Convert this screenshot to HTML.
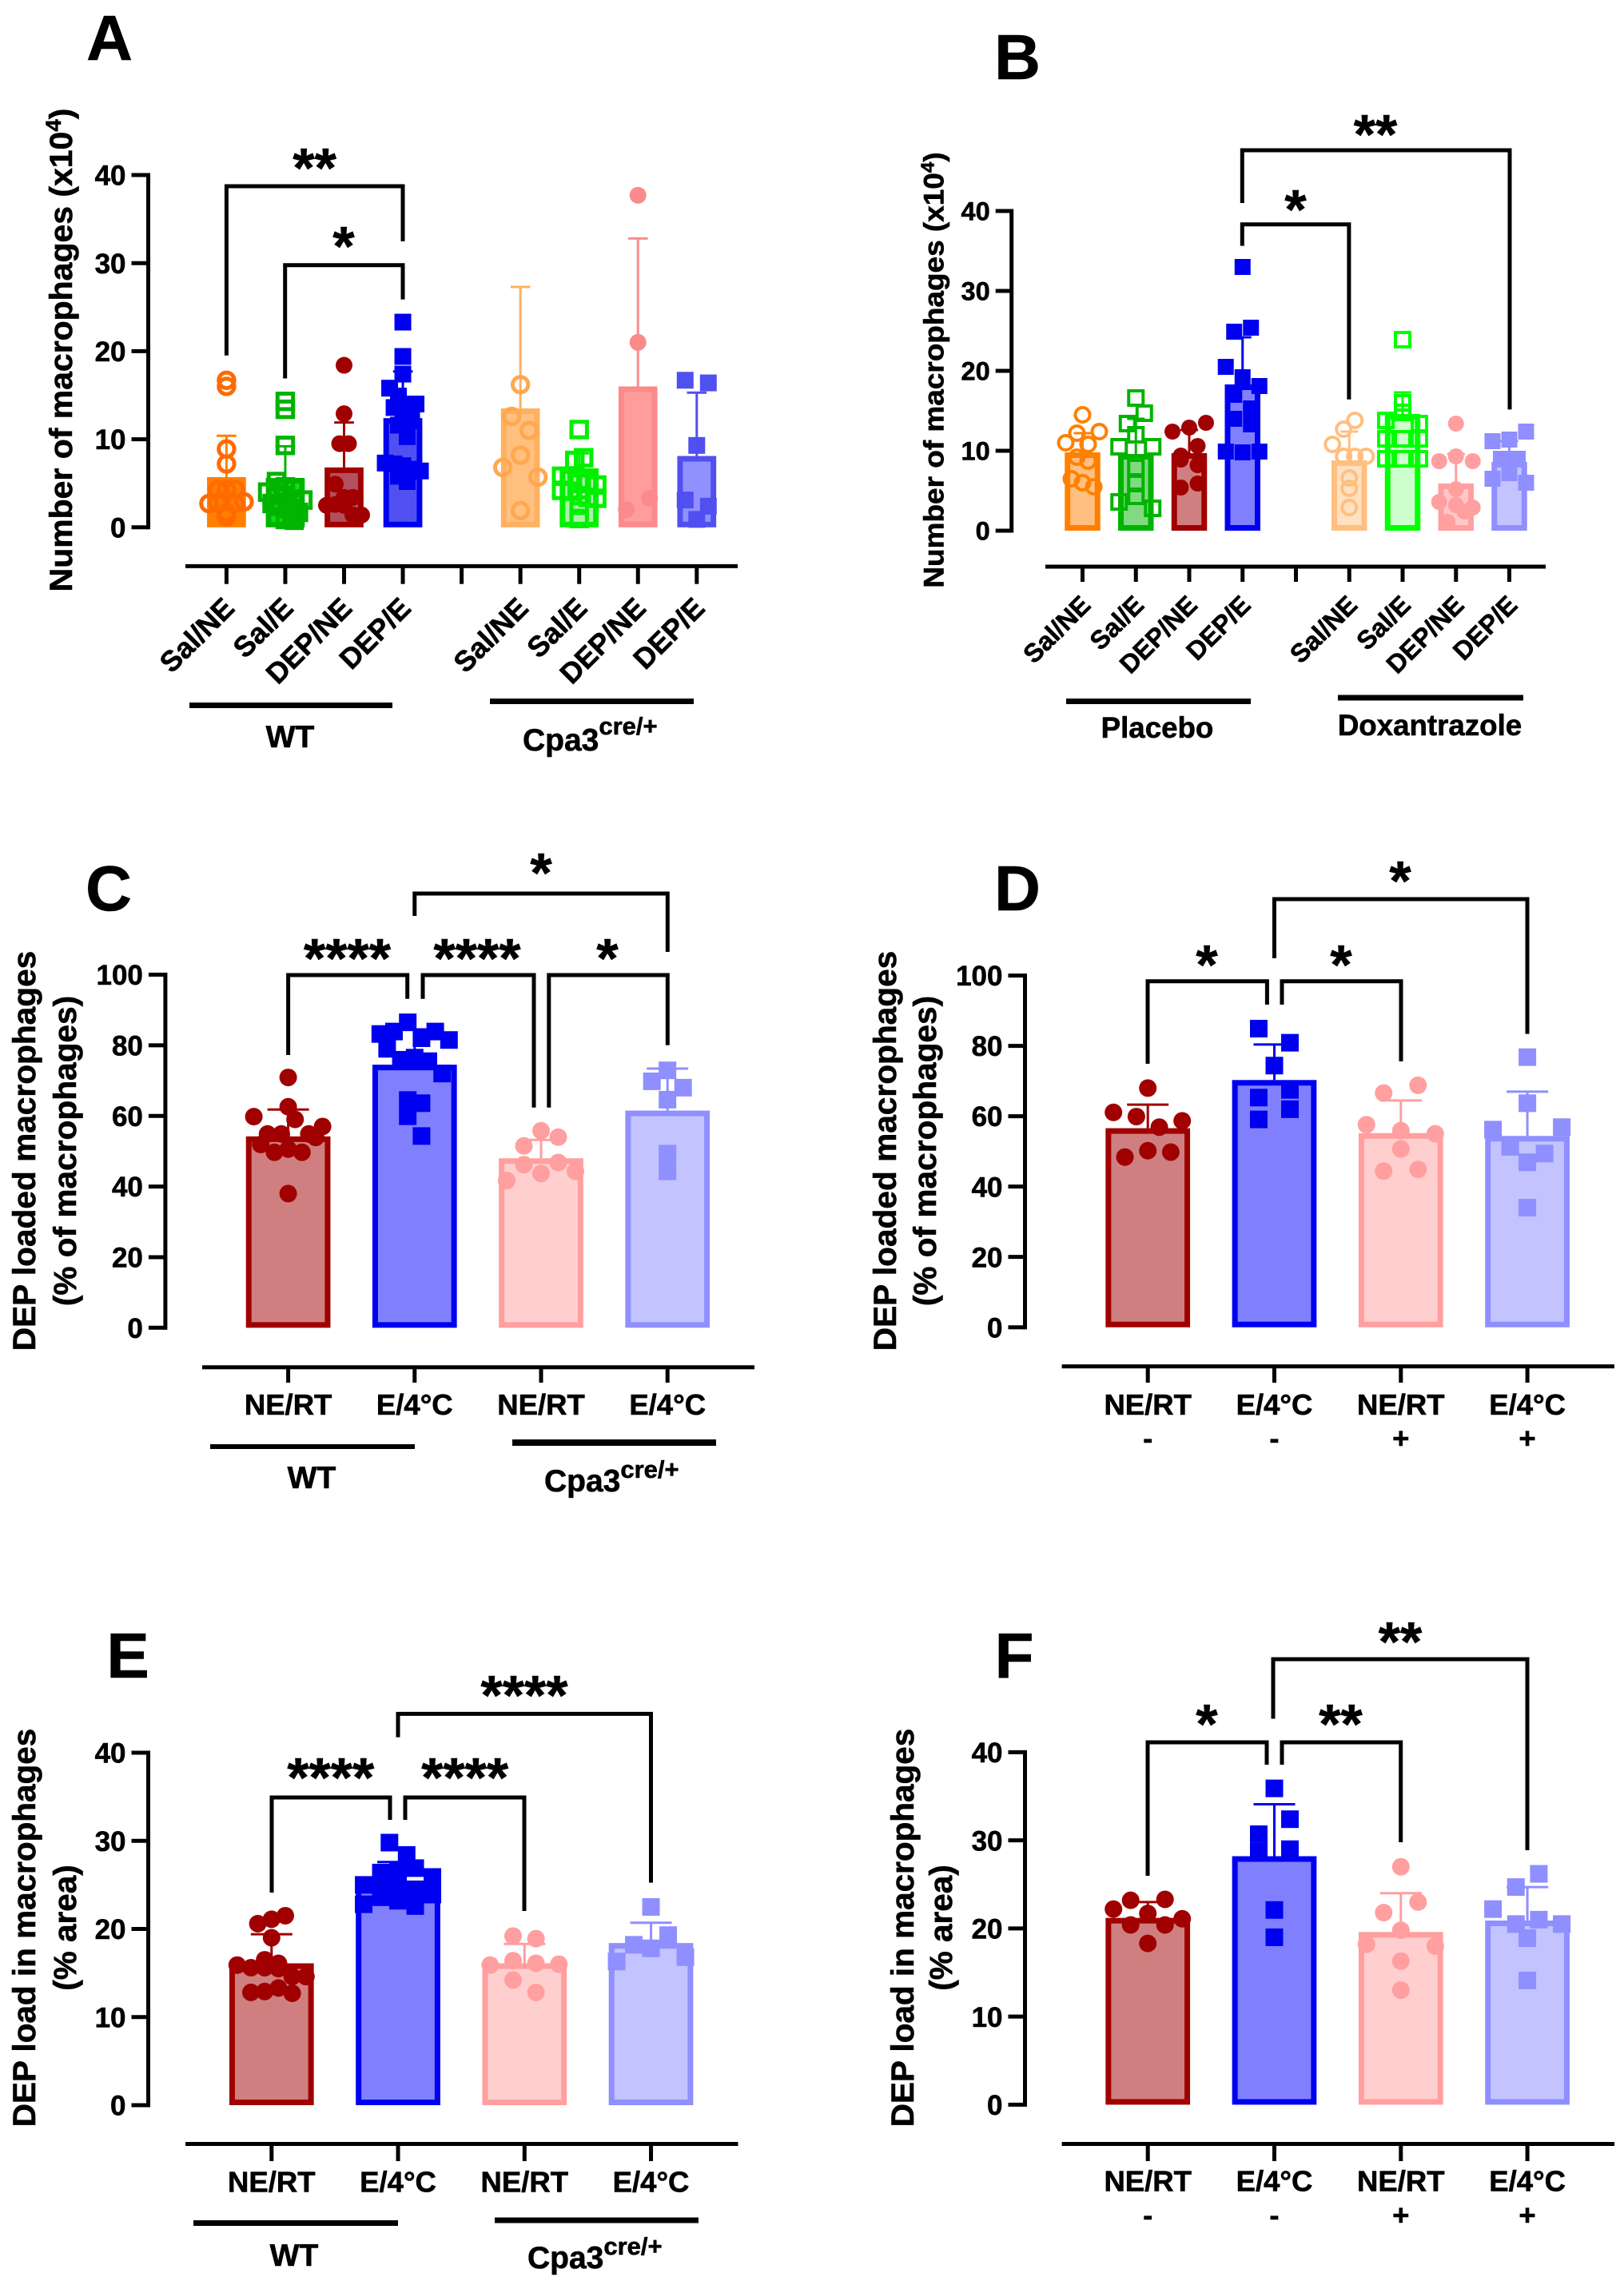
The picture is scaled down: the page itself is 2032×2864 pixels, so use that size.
<!DOCTYPE html>
<html lang="en">
<head>
<meta charset="utf-8">
<title>Macrophage figure panels A-F</title>
<style>
html,body{margin:0;padding:0;background:#fff;}
svg{display:block;font-family:"Liberation Sans",Arial,sans-serif;font-weight:bold;fill:#000;}
text{stroke:#000;stroke-width:.6px;}
.br{fill:none;stroke:#000;stroke-width:5;}
.gl{fill:#000;stroke:none;}
</style>
</head>
<body>
<svg id="figure" xmlns="http://www.w3.org/2000/svg" width="2032" height="2864" viewBox="0 0 2032 2864">
<rect width="2032" height="2864" fill="#fff"/>

<!-- panel letters -->
<text x="137" y="75" font-size="80" text-anchor="middle">A</text>
<text x="1273" y="99" font-size="80" text-anchor="middle">B</text>
<text x="136" y="1139" font-size="80" text-anchor="middle">C</text>
<text x="1273" y="1139" font-size="80" text-anchor="middle">D</text>
<text x="160" y="2099" font-size="80" text-anchor="middle">E</text>
<text x="1269" y="2099" font-size="80" text-anchor="middle">F</text>

<!-- y axis titles -->
<text transform="translate(90,438) rotate(-90) scale(1.024,1)" text-anchor="middle" font-size="40">Number of macrophages (x10<tspan dy="-14" font-size="27">4</tspan><tspan dy="14">)</tspan></text>
<text transform="translate(1180.5,463) rotate(-90) scale(1.056,1)" text-anchor="middle" font-size="35">Number of macrophages (x10<tspan dy="-12" font-size="23">4</tspan><tspan dy="12">)</tspan></text>
<text transform="translate(44,1440) rotate(-90) scale(1.016,1)" text-anchor="middle" font-size="40">DEP loaded macrophages</text>
<text transform="translate(95,1440) rotate(-90) scale(1.016,1)" text-anchor="middle" font-size="40">(% of macrophages)</text>
<text transform="translate(1121,1440) rotate(-90) scale(1.016,1)" text-anchor="middle" font-size="40">DEP loaded macrophages</text>
<text transform="translate(1171,1440) rotate(-90) scale(1.016,1)" text-anchor="middle" font-size="40">(% of macrophages)</text>
<text transform="translate(44,2412) rotate(-90) scale(1.012,1)" text-anchor="middle" font-size="40">DEP load in macrophages</text>
<text transform="translate(95,2412) rotate(-90) scale(1.012,1)" text-anchor="middle" font-size="40">(% area)</text>
<text transform="translate(1143,2412) rotate(-90) scale(1.012,1)" text-anchor="middle" font-size="40">DEP load in macrophages</text>
<text transform="translate(1191,2412) rotate(-90) scale(1.012,1)" text-anchor="middle" font-size="40">(% area)</text>

<!-- group rules and labels -->
<rect class="gl" x="237" y="879" width="254" height="7"/>
<rect class="gl" x="613" y="874" width="255" height="7"/>
<text x="363" y="935" font-size="39" text-anchor="middle">WT</text>
<text x="654" y="939" font-size="39">Cpa3<tspan dy="-20" font-size="31">cre/+</tspan></text>

<rect class="gl" x="1334" y="874" width="231" height="7"/>
<rect class="gl" x="1674" y="869.5" width="232" height="7"/>
<text x="1448" y="923" font-size="36.7" text-anchor="middle">Placebo</text>
<text x="1789" y="920" font-size="36.7" text-anchor="middle">Doxantrazole</text>

<rect class="gl" x="263" y="1807" width="256" height="6"/>
<rect class="gl" x="641" y="1801" width="255" height="8"/>
<text x="390" y="1862" font-size="39" text-anchor="middle">WT</text>
<text x="681" y="1866" font-size="39">Cpa3<tspan dy="-17" font-size="31">cre/+</tspan></text>

<rect class="gl" x="242" y="2778" width="256" height="7"/>
<rect class="gl" x="619" y="2774.5" width="255" height="7"/>
<text x="368" y="2835" font-size="39" text-anchor="middle">WT</text>
<text x="660" y="2838" font-size="39">Cpa3<tspan dy="-17" font-size="31">cre/+</tspan></text>

<!-- significance brackets and stars -->
<path class="br" d="M283.4 444.8V233H504V301.9"/>
<path class="br" d="M356.7 473.5V331.8H504V374.6"/>
<text x="393.6" y="234" font-size="70" text-anchor="middle">**</text>
<text x="430" y="332" font-size="70" text-anchor="middle">*</text>

<path class="br" d="M1554.3 254V188H1889V512.4"/>
<path class="br" d="M1554.3 307.6V280.8H1687.9V499.7"/>
<text x="1721" y="192" font-size="70" text-anchor="middle">**</text>
<text x="1621" y="286" font-size="70" text-anchor="middle">*</text>

<path class="br" d="M518.8 1146V1118H835.3V1191"/>
<path class="br" d="M360.6 1320V1220H509.7V1249.7"/>
<path class="br" d="M529 1249.7V1220H668V1385.8"/>
<path class="br" d="M686.8 1385.8V1220H835.3V1307.8"/>
<text x="677" y="1116" font-size="70" text-anchor="middle">*</text>
<text x="434.5" y="1223" font-size="70" text-anchor="middle">****</text>
<text x="597" y="1223" font-size="70" text-anchor="middle">****</text>
<text x="760" y="1223" font-size="70" text-anchor="middle">*</text>

<path class="br" d="M1594.5 1199V1125H1911V1293.6"/>
<path class="br" d="M1436 1331V1227.7H1585.4V1257"/>
<path class="br" d="M1604 1257V1227.7H1753V1328"/>
<text x="1752" y="1126" font-size="70" text-anchor="middle">*</text>
<text x="1510" y="1231" font-size="70" text-anchor="middle">*</text>
<text x="1678" y="1231" font-size="70" text-anchor="middle">*</text>

<path class="br" d="M498 2173.6V2144.4H814.5V2355.6"/>
<path class="br" d="M340 2368V2249H488V2277"/>
<path class="br" d="M507 2277V2249H656V2391"/>
<text x="656" y="2145" font-size="70" text-anchor="middle">****</text>
<text x="413.8" y="2248" font-size="70" text-anchor="middle">****</text>
<text x="581.7" y="2248" font-size="70" text-anchor="middle">****</text>

<path class="br" d="M1593 2150.5V2076H1911V2315"/>
<path class="br" d="M1436 2347V2180H1585V2208"/>
<path class="br" d="M1604 2208V2180H1752.7V2305"/>
<text x="1752" y="2078" font-size="70" text-anchor="middle">**</text>
<text x="1510" y="2181" font-size="70" text-anchor="middle">*</text>
<text x="1677.5" y="2181" font-size="70" text-anchor="middle">**</text>

<g id="charts"></g>
</svg>

<script>
// ---------- Panel A data ----------
const categoriesA = ['Sal/NE','Sal/E','DEP/NE','DEP/E','','Sal/NE','Sal/E','DEP/NE','DEP/E'];
const yTicksA = [0,10,20,30,40];
const meansA = [5.7,5.6,6.8,12.4,null,13.5,6.7,16.0,8.1];
const errorTopsA = [10.4,9.2,11.9,17.7,null,27.3,8.4,32.8,15.3];
const pointsA = [
  [16.7,16.0,8.9,7.2,4.3,4.3,4.3,2.7,2.8,1.7,2.7,2.9,1.2],
  [14.3,13.4,9.3,5.2,4.6,4.5,4.0,3.8,3.6,3.2,3.1,2.7,2.4,2.1,1.7,1.2,0.9,0.8],
  [18.4,12.9,9.5,9.5,4.9,3.4,3.4,2.5,2.6,2.5,1.4,1.4],
  [23.3,19.4,17.4,15.8,14.9,14.0,14.0,13.6,12.4,12.1,11.6,10.3,7.3,7.2,7.0,6.6,6.4,5.8,5.2],
  [],
  [16.2,12.6,11.0,6.8,8.2,5.7,1.9],
  [11.1,7.6,7.9,5.8,5.8,5.0,5.0,4.8,4.2,4.1,3.6,3.4,3.3,2.5,1.0],
  [37.7,21.0,2.0,3.3],
  [16.7,16.4,9.3,3.1,2.4,0.9]
];

// ---------- Panel B data ----------
const categoriesB = ['Sal/NE','Sal/E','DEP/NE','DEP/E','','Sal/NE','Sal/E','DEP/NE','DEP/E'];
const yTicksB = [0,10,20,30,40];
const meansB = [9.8,9.6,9.7,18.3,null,8.8,14.6,5.9,8.6];
const errorTopsB = [12.2,14.0,12.6,24.2,null,12.4,17.3,9.6,11.2];
const pointsB = [
  [14.5,11.0,12.2,10.8,12.4,9.2,8.7,6.5,6.0,5.5],
  [16.6,13.4,14.7,10.5,12.0,10.5,7.9,5.9,3.6,4.3,2.8],
  [12.4,12.9,13.5,9.4,10.6,8.9,8.2,5.4,5.9],
  [33.0,24.9,25.4,20.5,19.2,18.1,17.0,15.3,14.0,13.3,9.9,9.8,9.9],
  [],
  [12.7,13.8,10.8,9.3,9.3,9.3,6.6,5.3,2.9],
  [23.9,16.0,13.8,14.8,13.4,11.5,11.5,11.5,9.0,9.0,9.0],
  [13.4,8.7,9.3,8.7,5.2,3.6,3.2,2.9,1.1,2.4],
  [11.2,11.4,12.4,9.0,9.0,6.5,7.2,6.0]
];

// ---------- Panel C data ----------
const categoriesC = ['NE/RT','E/4°C','NE/RT','E/4°C'];
const yTicksC = [0,20,40,60,80,100];
const meansC = [54.2,74.5,48.0,61.5];
const errorTopsC = [61.8,84.5,53.2,73.4];
const pointsC = [
  [70.9,59.8,62.6,51.9,49.7,50.6,49.7,53.9,54.9,54.9,59.0,54.9,57.0,38.0],
  [83.2,83.9,86.5,82.0,83.9,81.5,79.0,75.9,76.5,75.5,72.0,64.5,63.6,59.9,54.3],
  [55.8,51.5,54.0,46.2,46.8,41.7,43.7,44.3],
  [72.9,69.8,68.0,64.6,49.3,44.3]
];

// ---------- Panel D data ----------
const categoriesD = ['NE/RT','E/4°C','NE/RT','E/4°C'];
const treatmentsD = ['-','-','+','+'];
const yTicksD = [0,20,40,60,80,100];
const meansD = [56.6,70.3,55.2,54.4];
const errorTopsD = [63.3,80.4,64.5,67.0];
const pointsD = [
  [68.0,61.1,59.9,56.9,58.7,48.4,50.2,49.8],
  [84.9,80.9,74.4,65.3,67.5,59.1,62.0],
  [66.6,68.8,57.6,55.9,55.0,50.7,44.4,44.9],
  [76.8,56.2,63.7,56.9,51.3,49.4,46.9,34.0]
];

// ---------- Panel E data ----------
const categoriesE = ['NE/RT','E/4°C','NE/RT','E/4°C'];
const yTicksE = [0,10,20,30,40];
const meansE = [16.1,25.0,16.1,18.4];
const errorTopsE = [19.4,27.6,18.3,20.7];
const pointsE = [
  [20.6,21.1,21.5,19.0,16.5,16.1,15.9,15.6,15.6,15.5,14.6,14.6,12.8,12.9,13.3,12.7],
  [29.8,28.4,26.4,26.5,26.9,25.0,24.8,24.9,24.5,25.9,22.8,23.6,23.2,22.6,23.9],
  [19.2,18.9,15.9,16.4,16.1,16.0,14.2,12.8],
  [22.5,18.2,19.3,16.3,17.8,16.8]
];

// ---------- Panel F data ----------
const categoriesF = ['NE/RT','E/4°C','NE/RT','E/4°C'];
const treatmentsF = ['-','-','+','+'];
const yTicksF = [0,10,20,30,40];
const meansF = [21.2,28.2,19.6,20.9];
const errorTopsF = [23.0,34.1,24.0,24.7];
const pointsF = [
  [23.2,23.3,22.2,21.7,21.1,20.4,20.4,18.3],
  [35.9,30.7,32.4,28.7,29.0,22.1,19.0],
  [27.0,21.8,23.0,18.2,19.8,18.0,16.3,13.0],
  [24.7,26.2,22.2,20.5,21.0,20.5,18.9,14.1]
];

const SVGNS = 'http://www.w3.org/2000/svg';
const chartsRoot = document.getElementById('charts');

function make(tag, parent, name, attrs) {
  const el = document.createElementNS(SVGNS, tag);
  
  
  for (const k in attrs) el.setAttribute(k, attrs[k]);
  parent.appendChild(el);
  return el;
}

// Prism-like column scatter: fixed value bins, each row centred on the bar.
function swarmOffsets(values, binWidth, spread, pairGap) {
  const rows = new Map();
  values.forEach(function (v, i) {
    const key = Math.floor(v / binWidth);
    if (!rows.has(key)) rows.set(key, []);
    rows.get(key).push(i);
  });
  let maxRow = 1;
  rows.forEach(function (r) { maxRow = Math.max(maxRow, r.length); });
  const gap = maxRow <= 1 ? 0 : (maxRow === 2 ? pairGap : 2 * spread / (maxRow - 1));
  const offsets = new Array(values.length).fill(0);
  rows.forEach(function (r) {
    r.forEach(function (idx, k) { offsets[idx] = (k - (r.length - 1) / 2) * gap; });
  });
  return offsets;
}

function drawPanel(cfg) {
  const g = make('g', chartsRoot, 'panel-' + cfg.id, {});
  const yScale = function (v) { return cfg.y0 - (v - cfg.yMin) * (cfg.y0 - cfg.yTop) / (cfg.yMax - cfg.yMin); };
  const xScale = function (i) { return cfg.x0 + i * cfg.step; };

  // y axis
  make('line', g, 'y-axis-line', {x1: cfg.axisX, x2: cfg.axisX, y1: yScale(cfg.yMax) - 2.5, y2: yScale(cfg.yMin) + 2.5, stroke: '#000', 'stroke-width': 5});
  cfg.yTicks.forEach(function (t) {
    make('line', g, 'y-tick', {x1: cfg.axisX - cfg.tickLen, x2: cfg.axisX, y1: yScale(t), y2: yScale(t), stroke: '#000', 'stroke-width': 5});
    const lab = make('text', g, 'y-tick-label', {x: cfg.axisX - cfg.tickLen - 7, y: yScale(t) + cfg.yFont * 0.36, 'text-anchor': 'end', 'font-size': cfg.yFont});
    lab.textContent = t;
  });

  // x axis
  make('line', g, 'x-axis-line', {x1: cfg.xAxisFrom, x2: cfg.xAxisTo, y1: cfg.xAxisY, y2: cfg.xAxisY, stroke: '#000', 'stroke-width': 5});
  cfg.categories.forEach(function (c, i) {
    make('line', g, 'x-tick', {x1: xScale(i), x2: xScale(i), y1: cfg.xAxisY, y2: cfg.xTickEnd, stroke: '#000', 'stroke-width': 5});
    if (!c) return;
    const lab = make('text', g, 'x-tick-label', {'font-size': cfg.xFont, 'text-anchor': cfg.xRot ? 'end' : 'middle'});
    if (cfg.xRot) {
      lab.setAttribute('transform', 'translate(' + (xScale(i) + 12) + ',' + cfg.xLabelY + ') rotate(-45)');
    } else {
      lab.setAttribute('x', xScale(i));
      lab.setAttribute('y', cfg.xLabelY);
    }
    lab.textContent = c;
    if (cfg.treatments) {
      const tr = make('text', g, 'treatment-label', {x: xScale(i), y: cfg.treatY, 'font-size': cfg.xFont, 'text-anchor': 'middle'});
      tr.textContent = cfg.treatments[i];
    }
  });

  // bars, error bars, points
  cfg.means.forEach(function (m, i) {
    if (m === null) return;
    const st = cfg.styles[i];
    const cx = xScale(i);
    const top = yScale(m);
    const sw = 7;
    const w = cfg.barW;
    make('rect', g, 'bar-' + i, {x: cx - w / 2 + sw / 2, y: top + sw / 2, width: w - sw, height: Math.max(0, yScale(0) - top - sw), fill: st.fill, stroke: st.stroke, 'stroke-width': sw});
    const et = yScale(cfg.errTops[i]);
    make('line', g, 'error-stem-' + i, {x1: cx, x2: cx, y1: top, y2: et, stroke: st.stroke, 'stroke-width': 3});
    make('line', g, 'error-cap-' + i, {x1: cx - cfg.capW / 2, x2: cx + cfg.capW / 2, y1: et, y2: et, stroke: st.stroke, 'stroke-width': 3});
    const vals = cfg.points[i];
    const offs = swarmOffsets(vals, cfg.bins[i], cfg.spread, cfg.pairGap);
    const pc = st.point || st.stroke;
    vals.forEach(function (v, k) {
      const px = cx + offs[k];
      const py = yScale(v);
      if (st.shape === 'circle') {
        make('circle', g, 'point', {cx: px, cy: py, r: cfg.markR, fill: pc});
      } else if (st.shape === 'square') {
        make('rect', g, 'point', {x: px - cfg.markR, y: py - cfg.markR, width: cfg.markR * 2, height: cfg.markR * 2, fill: pc});
      } else if (st.shape === 'open-circle') {
        make('circle', g, 'point', {cx: px, cy: py, r: cfg.openR, fill: 'none', stroke: pc, 'stroke-width': cfg.openW});
      } else {
        make('rect', g, 'point', {x: px - cfg.openR, y: py - cfg.openR, width: cfg.openR * 2, height: cfg.openR * 2, fill: 'none', stroke: pc, 'stroke-width': cfg.openW});
      }
    });
  });
}

const stylesCF = [
  {stroke: '#a00000', fill: '#cf7f7f', shape: 'circle'},
  {stroke: '#0000f0', fill: '#8080ff', shape: 'square'},
  {stroke: '#ff9f9f', fill: '#ffcfcf', shape: 'circle'},
  {stroke: '#8f8fff', fill: '#c3c3ff', shape: 'square'}
];

drawPanel({
  id: 'a', categories: categoriesA, yTicks: yTicksA, means: meansA, errTops: errorTopsA, points: pointsA,
  bins: [1.5,1.5,3,2,1,5,1.5,4,2],
  y0: 659.8, yTop: 219, yMin: 0, yMax: 40, axisX: 185.5, tickLen: 21, yFont: 35,
  x0: 283.4, step: 73.55, barW: 48.7, capW: 24.6, xAxisY: 708.4, xAxisFrom: 232, xAxisTo: 923, xTickEnd: 730.7,
  xFont: 36, xRot: true, xLabelY: 763, spread: 22, pairGap: 29, markR: 10.5, openR: 9.7, openW: 5,
  styles: [
    {stroke: '#ff8000', fill: '#ff8000', point: '#ff6a00', shape: 'open-circle'},
    {stroke: '#00b400', fill: '#10e010', shape: 'open-square'},
    {stroke: '#a00000', fill: '#b35060', shape: 'circle'},
    {stroke: '#0000f0', fill: '#5050f0', shape: 'square'},
    null,
    {stroke: '#ffb060', fill: '#ffc080', point: '#ffa850', shape: 'open-circle'},
    {stroke: '#00f000', fill: '#b0f0b0', shape: 'open-square'},
    {stroke: '#fb8a8a', fill: '#ff9c9c', shape: 'circle'},
    {stroke: '#5050f0', fill: '#9090ff', shape: 'square'}
  ]
});

drawPanel({
  id: 'b', categories: categoriesB, yTicks: yTicksB, means: meansB, errTops: errorTopsB, points: pointsB,
  bins: [2.5,2.5,3,3,1,3,2.5,2.5,2.5],
  y0: 664, yTop: 264, yMin: 0, yMax: 40, axisX: 1265.7, tickLen: 20, yFont: 32.5,
  x0: 1354.5, step: 66.75, barW: 44.5, capW: 22, xAxisY: 709, xAxisFrom: 1308, xAxisTo: 1934, xTickEnd: 728,
  xFont: 32.5, xRot: true, xLabelY: 759, spread: 21, pairGap: 28, markR: 10, openR: 9, openW: 4,
  styles: [
    {stroke: '#ff8000', fill: '#ffbf80', shape: 'open-circle'},
    {stroke: '#00b400', fill: '#80da80', shape: 'open-square'},
    {stroke: '#a00000', fill: '#cf7f7f', shape: 'circle'},
    {stroke: '#0000f0', fill: '#8080ff', shape: 'square'},
    null,
    {stroke: '#ffbf80', fill: '#ffe0c0', shape: 'open-circle'},
    {stroke: '#00ff00', fill: '#ccffcc', shape: 'open-square'},
    {stroke: '#ff9f9f', fill: '#ffc8c8', shape: 'circle'},
    {stroke: '#8f8fff', fill: '#c3c3ff', shape: 'square'}
  ]
});

drawPanel({
  id: 'c', categories: categoriesC, yTicks: yTicksC, means: meansC, errTops: errorTopsC, points: pointsC,
  bins: [6,10,5,6],
  y0: 1661.3, yTop: 1219.5, yMin: 0, yMax: 100, axisX: 206.9, tickLen: 21, yFont: 35,
  x0: 360.6, step: 158.2, barW: 105.7, capW: 52, xAxisY: 1710.7, xAxisFrom: 253, xAxisTo: 944, xTickEnd: 1730,
  xFont: 36.5, xRot: false, xLabelY: 1770, spread: 43, pairGap: 39, markR: 11, openR: 9, openW: 4, styles: stylesCF
});

drawPanel({
  id: 'd', categories: categoriesD, treatments: treatmentsD, treatY: 1812, yTicks: yTicksD, means: meansD, errTops: errorTopsD, points: pointsD,
  bins: [8,8,9,8],
  y0: 1660.7, yTop: 1220.6, yMin: 0, yMax: 100, axisX: 1282.5, tickLen: 21, yFont: 35,
  x0: 1436.2, step: 158.3, barW: 105.7, capW: 52, xAxisY: 1709.6, xAxisFrom: 1328.6, xAxisTo: 2020, xTickEnd: 1730,
  xFont: 36.5, xRot: false, xLabelY: 1770, spread: 43, pairGap: 39, markR: 11, openR: 9, openW: 4, styles: stylesCF
});

drawPanel({
  id: 'e', categories: categoriesE, yTicks: yTicksE, means: meansE, errTops: errorTopsE, points: pointsE,
  bins: [2,2,2.5,3],
  y0: 2634, yTop: 2193, yMin: 0, yMax: 40, axisX: 185.5, tickLen: 21, yFont: 35,
  x0: 339.8, step: 158.25, barW: 105.7, capW: 52, xAxisY: 2682.5, xAxisFrom: 232, xAxisTo: 923.5, xTickEnd: 2704,
  xFont: 36.5, xRot: false, xLabelY: 2742.6, spread: 43, pairGap: 39, markR: 11, openR: 9, openW: 4, styles: stylesCF
});

drawPanel({
  id: 'f', categories: categoriesF, treatments: treatmentsF, treatY: 2784, yTicks: yTicksF, means: meansF, errTops: errorTopsF, points: pointsF,
  bins: [1.5,3,3,4],
  y0: 2633.4, yTop: 2192.4, yMin: 0, yMax: 40, axisX: 1282.5, tickLen: 21, yFont: 35,
  x0: 1436.2, step: 158.3, barW: 105.7, capW: 52, xAxisY: 2682.5, xAxisFrom: 1328.6, xAxisTo: 2020, xTickEnd: 2704,
  xFont: 36.5, xRot: false, xLabelY: 2741.5, spread: 43, pairGap: 39, markR: 11, openR: 9, openW: 4, styles: stylesCF
});
</script>
</body>
</html>
